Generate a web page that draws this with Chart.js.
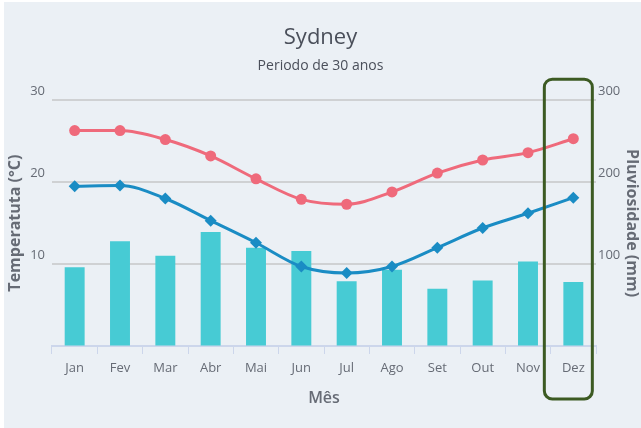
<!DOCTYPE html>
<html>
<head>
<meta charset="utf-8">
<script src="https://cdn.jsdelivr.net/npm/chart.js@4"></script>
<style>
  html, body { margin: 0; padding: 0; background: #ffffff; }
  #wrap { position: relative; width: 641px; height: 428px; }
</style>
</head>
<body>
<div id="wrap"><canvas id="c"></canvas></div>
<script>
const months = ['Jan','Fev','Mar','Abr','Mai','Jun','Jul','Ago','Set','Out','Nov','Dez'];
const rainfall = [96, 128, 110, 139, 120, 116, 79, 93, 70, 80, 103, 78];
const tempMax = [26.3, 26.3, 25.2, 23.2, 20.4, 17.9, 17.3, 18.8, 21.1, 22.7, 23.6, 25.3];
const tempMin = [19.5, 19.6, 18.0, 15.3, 12.6, 9.7, 8.9, 9.7, 12.0, 14.4, 16.2, 18.1];
const highlightIndex = 11;

const FONT = "'Open Sans', sans-serif";
const TXT = '#666b75';

const bgPlugin = {
  id: 'bg',
  beforeDraw(chart) {
    const ctx = chart.ctx;
    ctx.save();
    ctx.fillStyle = '#ebf0f5';
    ctx.fillRect(4, 2, chart.width - 4, chart.height - 2);
    ctx.restore();
  }
};

const boxPlugin = {
  id: 'box',
  afterDraw(chart) {
    const x = chart.scales.x;
    const cx = x.getPixelForValue(highlightIndex);
    const ca = chart.chartArea;
    const ctx = chart.ctx;
    ctx.save();
    ctx.strokeStyle = '#3c5a22';
    ctx.lineWidth = 3;
    ctx.beginPath();
    ctx.roundRect(cx - 29, ca.top - 21, 48, 420 - ca.top, 8);
    ctx.stroke();
    ctx.restore();
  }
};

new Chart(document.getElementById('c'), {
  data: {
    labels: months,
    datasets: [
      {
        type: 'line', label: 'Máxima', data: tempMax, yAxisID: 'yT', order: 1,
        borderColor: '#ef6a7b', backgroundColor: '#ef6a7b', borderWidth: 3,
        pointStyle: 'circle', pointRadius: 5.5, pointBorderWidth: 0,
        cubicInterpolationMode: 'monotone'
      },
      {
        type: 'line', label: 'Mínima', data: tempMin, yAxisID: 'yT', order: 2,
        borderColor: '#1a8cc4', backgroundColor: '#1a8cc4', borderWidth: 3,
        pointStyle: 'rectRot', pointRadius: 6, pointBorderWidth: 0,
        cubicInterpolationMode: 'monotone'
      },
      {
        type: 'bar', label: 'Pluviosidade', data: rainfall, yAxisID: 'yR', order: 3,
        backgroundColor: '#47cbd4', borderWidth: 0,
        barPercentage: 0.88, categoryPercentage: 0.5
      }
    ]
  },
  options: {
    responsive: true,
    maintainAspectRatio: false,
    animation: false,
    layout: { padding: { left: 0, right: 0, top: 0, bottom: 16 } },
    plugins: {
      legend: { display: false },
      tooltip: { enabled: false },
      title: {
        display: true, text: 'Sydney', color: '#4a4f5a',
        font: { family: FONT, size: 22, weight: 'normal' },
        padding: { top: 25, bottom: 6 }
      },
      subtitle: {
        display: true, text: 'Periodo de 30 anos', color: '#4a4f5a',
        font: { family: FONT, size: 14, weight: 'normal' },
        padding: { top: 0, bottom: 26 }
      }
    },
    scales: {
      x: {
        grid: { offset: true, drawOnChartArea: false, tickLength: 8, color: '#ccd6eb', lineWidth: 1 },
        border: { color: '#ccd6eb', width: 2 },
        ticks: { color: TXT, font: { family: FONT, size: 13 }, padding: 6, maxRotation: 0 },
        title: { display: true, text: 'Mês', color: TXT, font: { family: FONT, size: 16, weight: '600' }, padding: { top: 2 } },
        afterFit(s) { s.height = 66; }
      },
      yT: {
        type: 'linear', position: 'left', min: 0, max: 30,
        grid: { color: (c) => c.tick && c.tick.value === 0 ? 'rgba(0,0,0,0)' : '#cfd1d3', lineWidth: 2, drawTicks: false },
        border: { display: false },
        ticks: { stepSize: 10, color: TXT, font: { family: FONT, size: 13 }, padding: 7, labelOffset: -9,
          callback: (v) => v === 0 ? '' : v },
        title: { display: true, text: 'Temperatuta (°C)', color: TXT, font: { family: FONT, size: 16, weight: 'bold' }, padding: { top: 6, bottom: 0 } },
        afterFit(s) { s.width = 52; }
      },
      yR: {
        type: 'linear', position: 'right', min: 0, max: 300,
        grid: { drawOnChartArea: false, drawTicks: false },
        border: { display: false },
        ticks: { stepSize: 100, color: TXT, font: { family: FONT, size: 13 }, padding: 2, labelOffset: -9,
          callback: (v) => v === 0 ? '' : v },
        title: { display: true, text: 'Pluviosidade (mm)', color: TXT, font: { family: FONT, size: 16, weight: 'bold' }, padding: { top: 0, bottom: 0 } },
        afterFit(s) { s.width = 45; }
      }
    }
  },
  plugins: [bgPlugin, boxPlugin]
});
</script>
</body>
</html>
